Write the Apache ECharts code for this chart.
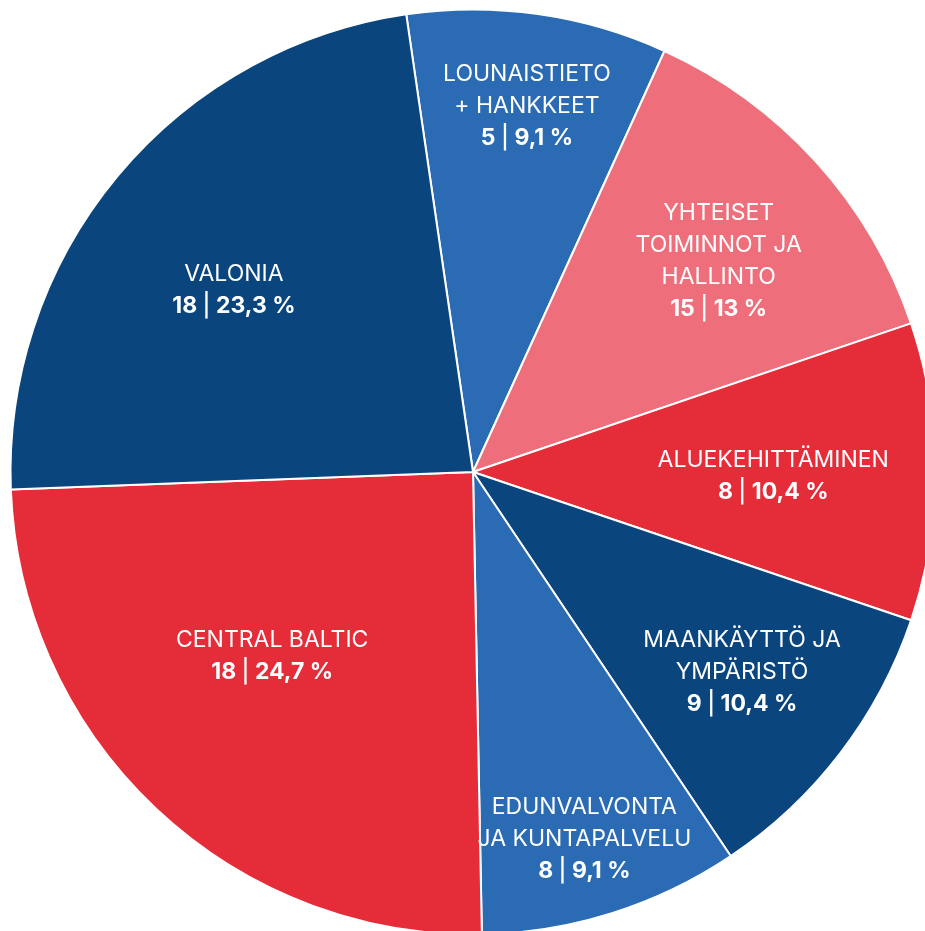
<!DOCTYPE html>
<html>
<head>
<meta charset="utf-8">
<script src="https://cdn.jsdelivr.net/npm/echarts@6/dist/echarts.min.js"></script>
<style>
html,body{margin:0;padding:0;background:#fff;}
#chart{width:925px;height:931px;}
</style>
</head>
<body>
<div id="chart"></div>
<script>
const categories = [
  'LOUNAISTIETO\n+ HANKKEET',
  'YHTEISET\nTOIMINNOT JA\nHALLINTO',
  'ALUEKEHITTÄMINEN',
  'MAANKÄYTTÖ JA\nYMPÄRISTÖ',
  'EDUNVALVONTA\nJA KUNTAPALVELU',
  'CENTRAL BALTIC',
  'VALONIA'
];
const counts = [5, 15, 8, 9, 8, 18, 18];
const percents = [9.1, 13, 10.4, 10.4, 9.1, 24.7, 23.3];

const colors = ['#2A6BB3', '#EE6F7B', '#E52D3A', '#0B457D', '#2A6BB3', '#E52D3A', '#0B457D'];
const labelOffsets = [[21,-134],[72,-54],[66,4],[83,58],[41,144],[-40,14],[-59,-32]];

const data = categories.map((name, i) => ({
  name: name,
  value: percents[i],
  count: counts[i],
  itemStyle: { color: colors[i] },
  label: { offset: labelOffsets[i] }
}));

const chart = echarts.init(document.getElementById('chart'), null, {renderer: 'canvas'});
chart.setOption({
  animation: false,
  series: [{
    type: 'pie',
    center: [473, 472],
    radius: [0, 462.5],
    startAngle: 98.3,
    clockwise: true,
    avoidLabelOverlap: false,
    data: data,
    itemStyle: { borderColor: '#ffffff', borderWidth: 2 },
    emphasis: { disabled: true },
    labelLine: { show: false },
    label: {
      show: true,
      position: 'inside',
      color: '#ffffff',
      fontFamily: 'Inter',
      align: 'center',
      formatter: function (p) {
        const lines = p.name.split('\n').map(l => '{n|' + l + '}');
        const pct = String(p.value).replace('.', ',');
        lines.push('{v|' + p.data.count + ' }{p||}{v| ' + pct + ' %}');
        return lines.join('\n');
      },
      rich: {
        n: { fontFamily: 'Inter', fontSize: 23, fontWeight: 'normal', color: '#fff', lineHeight: 32, align: 'center' },
        v: { fontFamily: 'Inter', fontSize: 23, fontWeight: 'bold', color: '#fff', lineHeight: 32, align: 'center' },
        p: { fontFamily: 'Inter', fontSize: 23, fontWeight: 500, color: '#fff', lineHeight: 32, align: 'center' }
      }
    }
  }]
});
</script>
</body>
</html>
